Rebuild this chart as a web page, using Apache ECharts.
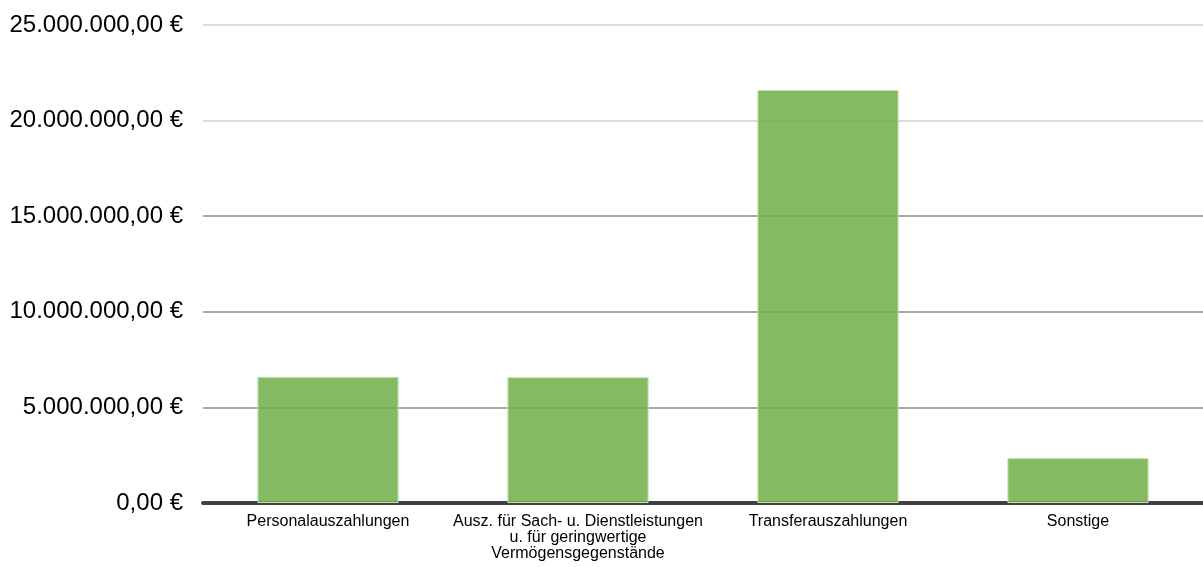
<!DOCTYPE html>
<html><head><meta charset="utf-8">
<script src="https://cdn.jsdelivr.net/npm/echarts@6/dist/echarts.min.js"></script>
<style>html,body{margin:0;padding:0;background:#fff}#c{width:1203px;height:567px}</style>
</head><body><div id="c"></div>
<script>
const categories = ['Personalauszahlungen', 'Ausz. für Sach- u. Dienstleistungen\nu. für geringwertige\nVermögensgegenstände', 'Transferauszahlungen', 'Sonstige'];
const values = [6600000, 6580000, 21600000, 2350000];
const yTicks = [0, 5000000, 10000000, 15000000, 20000000, 25000000];

function fmt(v) {
  const s = Math.round(v).toString().replace(/\B(?=(\d{3})+(?!\d))/g, '.');
  return s + ',00 €';
}
const chart = echarts.init(document.getElementById('c'), null, {renderer: 'canvas'});
chart.setOption({
  animation: false,
  grid: {left: 203, right: 0, top: 25, bottom: 64, containLabel: false},
  xAxis: {
    type: 'category', data: categories,
    axisLine: {lineStyle: {color: '#404040', width: 4}},
    axisTick: {show: false},
    axisLabel: {color: '#000', fontSize: 16, fontFamily: 'Liberation Sans, Arial', margin: 11, lineHeight: 16, interval: 0}
  },
  yAxis: {
    type: 'value', min: yTicks[0], max: yTicks[yTicks.length - 1], interval: 5000000,
    axisLine: {show: false}, axisTick: {show: false},
    axisLabel: {color: '#000', fontSize: 24, fontFamily: 'Liberation Sans, Arial', margin: 20, formatter: fmt},
    splitLine: {lineStyle: {color: ['#aaa', '#aaa', '#aaa', '#aaa', '#dcdcdc', '#dcdcdc'], width: 2}}
  },
  series: [{
    type: 'bar', data: values, barWidth: '56.5%',
    itemStyle: {color: 'rgba(112,173,71,0.85)', borderColor: '#c8e3b6', borderWidth: 1}
  }]
});
</script></body></html>
